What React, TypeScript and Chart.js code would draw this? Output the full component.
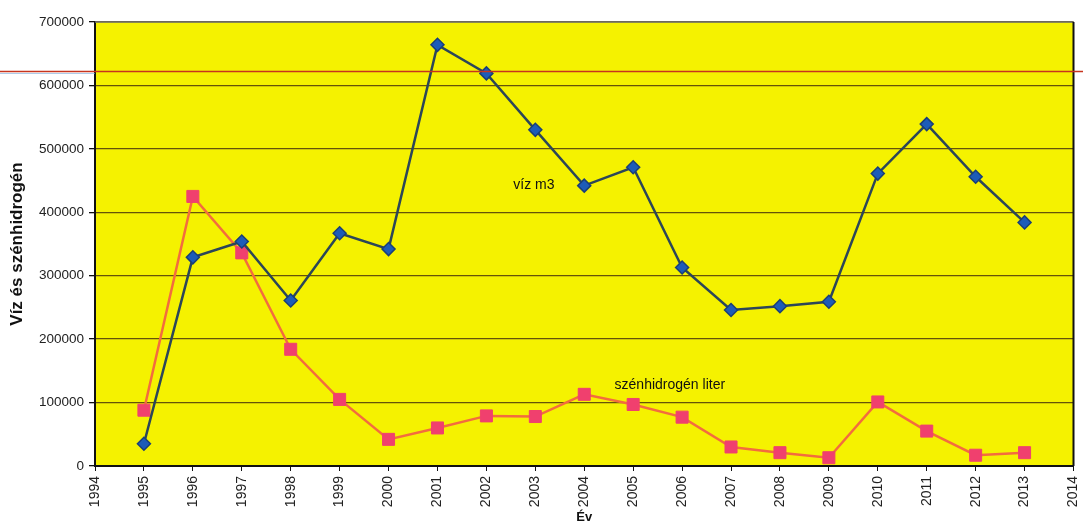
import React, { useEffect, useRef } from "react";
import { Chart, registerables } from "chart.js";

Chart.register(...registerables);

const years = [1995, 1996, 1997, 1998, 1999, 2000, 2001, 2002, 2003, 2004, 2005, 2006, 2007, 2008, 2009, 2010, 2011, 2012, 2013];
const vizM3 = [35000, 329000, 354000, 261000, 367000, 342000, 664000, 619000, 530000, 442000, 471000, 313000, 246000, 252000, 259000, 461000, 539000, 456000, 384000];
const szenhidrogenLiter = [88000, 425000, 336000, 184000, 105000, 42000, 60000, 79000, 78000, 113000, 97000, 77000, 30000, 21000, 13000, 101000, 55000, 17000, 21000];

const seriesNames = ["víz m3", "szénhidrogén liter"];
// inline label anchors (data coordinates)
const labelAnchorX = [2002.55, 2004.62];
const labelAnchorY = [443000, 127000];
const yTitle = "Víz és szénhidrogén";
const xTitle = "Év";
const xMin = 1994;
const xMax = 2014;
const yMin = 0;
const yMax = 700000;
const yStep = 100000;
const scanLineValue = 622000;

const FONT = "'Liberation Sans', Arial, sans-serif";

export default function App() {
  const ref = useRef<HTMLCanvasElement | null>(null);

  useEffect(() => {
    document.body.style.margin = "0";
    const canvas = ref.current;
    if (!canvas) return;

    const bgPlugin = {
      id: "bg",
      beforeDraw(chart: any) {
        const { ctx, chartArea: a } = chart;
        ctx.save();
        ctx.fillStyle = "#f5f200";
        ctx.fillRect(a.left, a.top, a.right - a.left, a.bottom - a.top);
        ctx.restore();
      },
      afterDraw(chart: any) {
        const { ctx, chartArea: a, scales } = chart;
        ctx.save();
        // top and right frame
        ctx.lineWidth = 1.5;
        ctx.strokeStyle = "#707070";
        ctx.beginPath();
        ctx.moveTo(a.left, a.top);
        ctx.lineTo(a.right, a.top);
        ctx.stroke();
        ctx.strokeStyle = "#111";
        ctx.lineWidth = 2;
        ctx.beginPath();
        ctx.moveTo(a.right, a.top);
        ctx.lineTo(a.right, a.bottom);
        ctx.stroke();
        // inline series labels
        ctx.fillStyle = "#111";
        ctx.font = `14px ${FONT}`;
        ctx.textAlign = "left";
        ctx.textBaseline = "middle";
        for (let i = 0; i < seriesNames.length; i++) {
          const x = scales.x.getPixelForValue(labelAnchorX[i]);
          const y = scales.y.getPixelForValue(labelAnchorY[i]);
          ctx.fillText(seriesNames[i], x, y);
        }
        // scan artefact line
        const ly = Math.round(scales.y.getPixelForValue(scanLineValue)) + 0.5;
        ctx.strokeStyle = "#c8341e";
        ctx.lineWidth = 1.5;
        ctx.beginPath();
        ctx.moveTo(0, ly);
        ctx.lineTo(chart.width, ly);
        ctx.stroke();
        ctx.strokeStyle = "rgba(120,170,220,0.6)";
        ctx.lineWidth = 1;
        ctx.beginPath();
        ctx.moveTo(0, ly + 2);
        ctx.lineTo(a.left, ly + 2);
        ctx.stroke();
        ctx.restore();
      },
    };

    const chart = new Chart(canvas, {
      type: "line",
      data: {
        datasets: [
          {
            label: seriesNames[0],
            data: years.map((yr, i) => ({ x: yr, y: vizM3[i] })),
            borderColor: "#2c4658",
            borderWidth: 2.5,
            backgroundColor: "#1d5cb8",
            pointBackgroundColor: "#1d5cb8",
            pointBorderColor: "#1a3f78",
            pointBorderWidth: 1.5,
            pointStyle: "rectRot",
            pointRadius: 6.5,
            tension: 0,
          },
          {
            label: seriesNames[1],
            data: years.map((yr, i) => ({ x: yr, y: szenhidrogenLiter[i] })),
            borderColor: "#f36c3e",
            borderWidth: 2.5,
            backgroundColor: "#f0406e",
            pointBackgroundColor: "#f0406e",
            pointBorderColor: "#f0406e",
            pointBorderWidth: 1,
            pointStyle: "rect",
            pointRadius: 8.5,
            tension: 0,
          },
        ],
      },
      options: {
        animation: false,
        responsive: true,
        maintainAspectRatio: false,
        layout: { padding: { top: 22, right: 6, left: 0, bottom: 0 } },
        plugins: {
          legend: { display: false },
          tooltip: { enabled: false },
        },
        scales: {
          x: {
            type: "linear",
            min: xMin,
            max: xMax,
            afterFit(s: any) {
              s.height = 61;
              s.paddingLeft = 0;
              s.paddingRight = 0;
            },
            ticks: {
              stepSize: 1,
              autoSkip: false,
              minRotation: 90,
              maxRotation: 90,
              padding: 5,
              color: "#222",
              font: { family: FONT, size: 14 },
              callback: (v: any) => String(v),
            },
            grid: {
              drawOnChartArea: false,
              tickLength: 5,
              tickColor: "#111",
            },
            border: { color: "#111", width: 2 },
            title: {
              display: true,
              text: xTitle,
              color: "#111",
              font: { family: FONT, size: 13, weight: "bold" },
              padding: { top: 0, bottom: 2 },
            },
          },
          y: {
            type: "linear",
            min: yMin,
            max: yMax,
            afterFit(s: any) {
              s.width = 95;
              s.paddingTop = 0;
              s.paddingBottom = 0;
            },
            ticks: {
              stepSize: yStep,
              padding: 5,
              color: "#222",
              font: { family: FONT, size: 13.5 },
              callback: (v: any) => String(v),
            },
            grid: {
              color: "rgba(85,65,10,0.9)",
              lineWidth: 1.3,
              tickLength: 6,
              tickColor: "#111",
            },
            border: { color: "#111", width: 2 },
            title: {
              display: true,
              text: yTitle,
              color: "#111",
              font: { family: FONT, size: 17, weight: "bold" },
              padding: { top: 7, bottom: 0 },
            },
          },
        },
      } as any,
      plugins: [bgPlugin],
    });

    return () => chart.destroy();
  }, []);

  return (
    <div style={{ position: "fixed", left: 0, top: 0, width: 1083, height: 527, background: "#fff" }}>
      <canvas ref={ref} />
    </div>
  );
}
